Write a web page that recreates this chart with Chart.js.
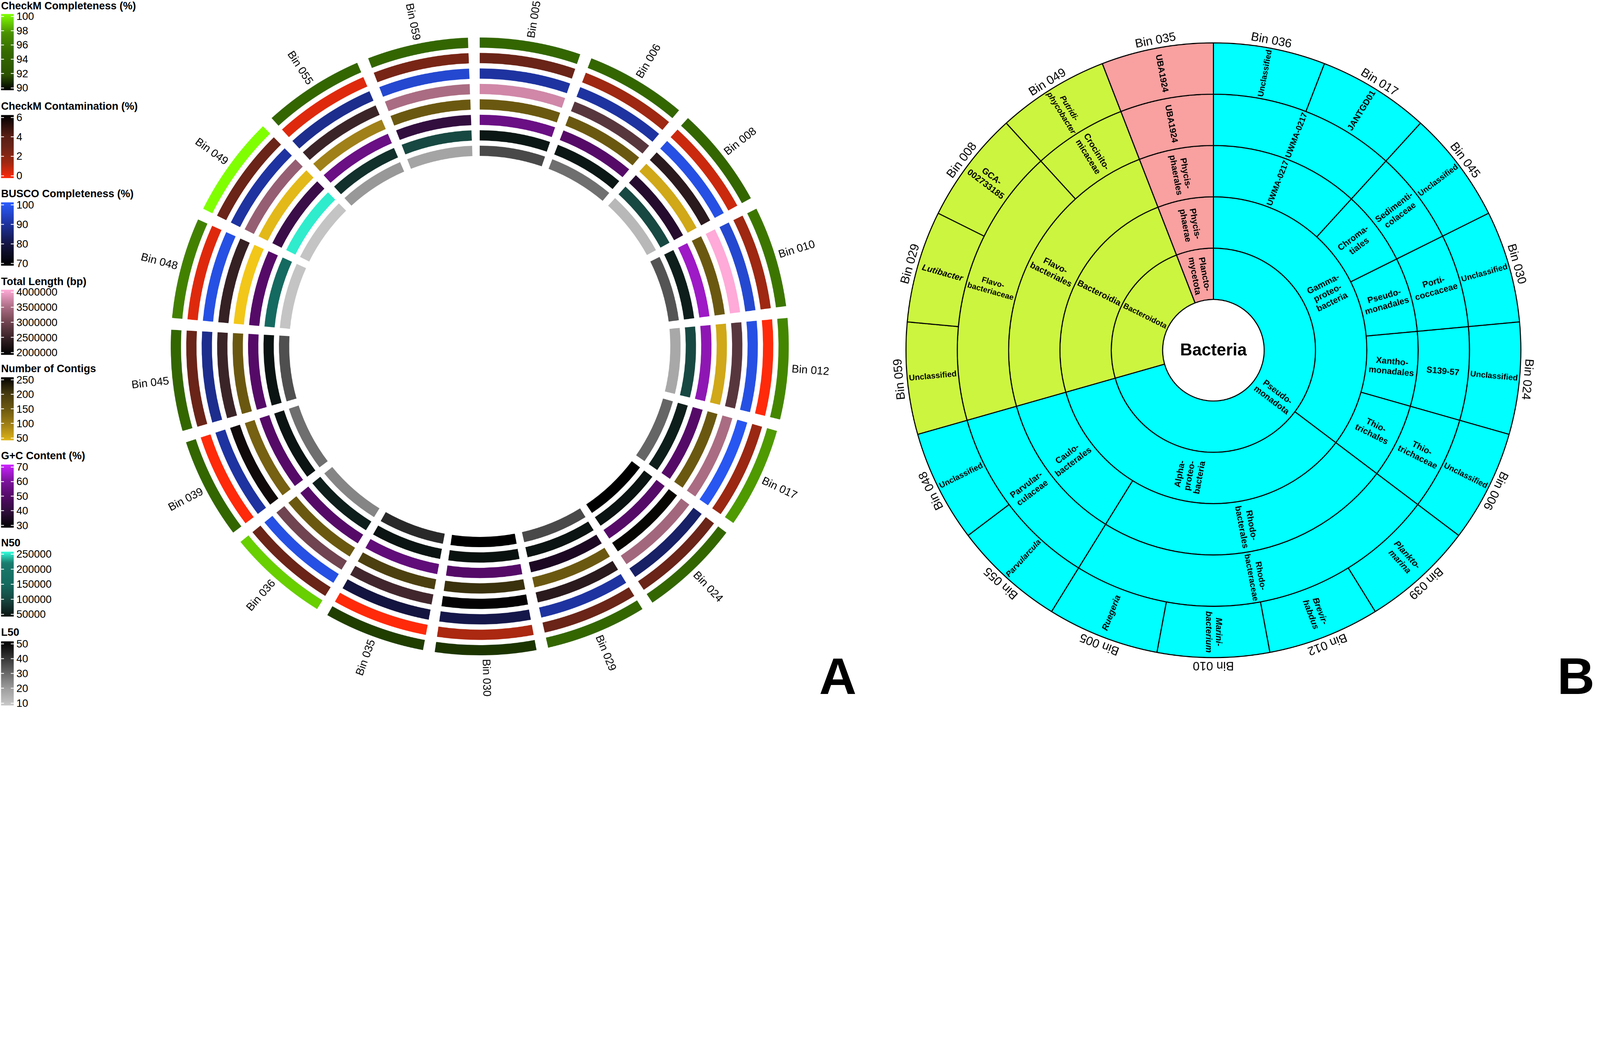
<!DOCTYPE html>
<html>
<head>
<meta charset="utf-8">
<script src="https://cdn.jsdelivr.net/npm/chart.js@4.4.0/dist/chart.umd.min.js"></script>
<style>
  html, body { margin: 0; padding: 0; background: #fff; overflow: hidden; }
  #page { position: relative; width: 6063px; height: 2681px; overflow: hidden; transform-origin: 0 0;
    font-family: 'Liberation Sans', Arial, sans-serif; color: #000; background: #fff; }
  .lg-title { position: absolute; left: 4px; font-weight: bold; font-size: 40px; line-height: 40px; white-space: nowrap; }
  .lg-bar { position: absolute; left: 4px; width: 48px; }
  .lg-tick { position: absolute; height: 3px; width: 11px; background: #fff; }
  .lg-label { position: absolute; left: 62px; font-size: 40px; line-height: 40px; white-space: nowrap; }
  .panel-letter { position: absolute; font-weight: bold; font-size: 196px; line-height: 1; }
  .wrap { position: absolute; top: 0; }
</style>
</head>
<body>
<div id="page">
  <div id="legends"></div>
  <div class="wrap" style="left:418px"><canvas id="chart-a" width="2800" height="2681"></canvas></div>
  <div class="wrap" style="left:3133px"><canvas id="chart-b" width="2930" height="2655"></canvas></div>
  <div class="panel-letter" style="left:3104px;top:2466px">A</div>
  <div class="panel-letter" style="left:5901px;top:2466px">B</div>
</div>
<script>
(function () {
  'use strict';

  // ---- Panel A: MAG quality per bin (clockwise from top) ----
  const binsA = ['Bin 005', 'Bin 006', 'Bin 008', 'Bin 010', 'Bin 012', 'Bin 017', 'Bin 024', 'Bin 029', 'Bin 030',
    'Bin 035', 'Bin 036', 'Bin 039', 'Bin 045', 'Bin 048', 'Bin 049', 'Bin 055', 'Bin 059'];
  const checkmCompleteness = [94.5, 94.5, 94.5, 95.8, 96.8, 97.7, 94.5, 94.5, 91.3, 91.5, 98.9, 94.5, 94.5, 96.5, 100, 94.5, 94.5];
  const checkmContamination = [3.0, 1.5, 0.8, 1.5, 0.0, 1.6, 3.0, 3.0, 1.3, 0.0, 3.0, 0.0, 3.0, 0.5, 3.0, 0.5, 2.6];
  const buscoCompleteness = [90, 90, 97, 95, 97, 98.5, 84, 90, 81, 80, 97, 90, 88, 97, 90, 88, 95];
  const totalLength = [3700000, 2800000, 2400000, 4000000, 2800000, 3450000, 3400000, 2400000, 2050000,
    2600000, 3000000, 2150000, 2550000, 2500000, 3300000, 2550000, 3450000];
  const numContigs = [150, 150, 60, 150, 60, 150, 245, 150, 208, 190, 150, 140, 150, 38, 48, 100, 150];
  const gcContent = [55, 50, 38, 64, 62, 50, 50, 36, 50, 53, 50, 50, 50, 50, 43, 55, 41];
  const n50 = [55000, 55000, 105000, 62000, 105000, 62000, 52000, 52000, 50000, 52000, 62000, 52000, 52000,
    150000, 245000, 80000, 105000];
  const l50 = [36, 29, 14, 34, 18, 31, 50, 36, 50, 42, 25, 29, 35, 11, 11, 21.5, 19];

  // colour scales (value, colour)
  const checkmStops = [[90, '#000000'], [92, '#2b5200'], [95, '#356a00'], [97.5, '#4a9100'], [100, '#80ff00']];
  const contamStops = [[0, '#ff2a0a'], [1.5, '#9e2812'], [3, '#6a2418'], [4, '#581e14'], [6, '#000000']];
  const buscoStops = [[70, '#000000'], [80, '#141440'], [90, '#1e33a0'], [100, '#2a5cff']];
  const lengthStops = [[2000000, '#000000'], [2500000, '#352024'], [3000000, '#704450'], [3500000, '#b07088'], [4000000, '#ffaad8']];
  const contigStops = [[30, '#ffd21a'], [60, '#d0a818'], [100, '#a08018'], [150, '#6b5810'], [200, '#453a10'], [250, '#000000']];
  const gcStops = [[30, '#000000'], [40, '#2e0e3a'], [50, '#550a68'], [60, '#7e14a0'], [70, '#cc22ff']];
  const n50Stops = [[50000, '#0a1210'], [100000, '#17443e'], [150000, '#146a60'], [215000, '#1a7a6c'], [250000, '#33ffdd']];
  const l50Stops = [[10, '#c8c8c8'], [20, '#a0a0a0'], [30, '#6a6a6a'], [40, '#333333'], [50, '#000000']];

  const legendTitles = ['CheckM Completeness (%)', 'CheckM Contamination (%)', 'BUSCO Completeness (%)',
    'Total Length (bp)', 'Number of Contigs', 'G+C Content (%)', 'N50', 'L50'];
  const legendTicks = [
    [100, 98, 96, 94, 92, 90],
    [6, 4, 2, 0],
    [100, 90, 80, 70],
    [4000000, 3500000, 3000000, 2500000, 2000000],
    [250, 200, 150, 100, 50],
    [70, 60, 50, 40, 30],
    [250000, 200000, 150000, 100000, 50000],
    [50, 40, 30, 20, 10],
  ];

  // ---- Panel B: taxonomy per bin (clockwise from top) ----
  const binsB = ['Bin 036', 'Bin 017', 'Bin 045', 'Bin 030', 'Bin 024', 'Bin 006', 'Bin 039', 'Bin 012', 'Bin 010',
    'Bin 005', 'Bin 055', 'Bin 048', 'Bin 059', 'Bin 029', 'Bin 008', 'Bin 049', 'Bin 035'];
  const phylumB = Array(12).fill('Pseudo-\nmonadota').concat(Array(4).fill('Bacteroidota'), ['Plancto-\nmycetota']);
  const classB = Array(6).fill('Gamma-\nproteo-\nbacteria').concat(Array(6).fill('Alpha-\nproteo-\nbacteria'),
    Array(4).fill('Bacteroidia'), ['Phycis-\nphaerae']);
  const orderB = ['UWMA-0217', 'UWMA-0217', 'Chroma-\ntiales', 'Pseudo-\nmonadales', 'Xantho-\nmonadales', 'Thio-\ntrichales',
    'Rhodo-\nbacterales', 'Rhodo-\nbacterales', 'Rhodo-\nbacterales', 'Rhodo-\nbacterales', 'Caulo-\nbacterales', 'Caulo-\nbacterales',
    'Flavo-\nbacteriales', 'Flavo-\nbacteriales', 'Flavo-\nbacteriales', 'Flavo-\nbacteriales', 'Phycis-\nphaerales'];
  const familyB = ['UWMA-0217', 'UWMA-0217', 'Sedimenti-\ncolaceae', 'Porti-\ncoccaceae', 'S139-57', 'Thio-\ntrichaceae',
    'Rhodo-\nbacteraceae', 'Rhodo-\nbacteraceae', 'Rhodo-\nbacteraceae', 'Rhodo-\nbacteraceae', 'Parvular-\nculaceae', 'Parvular-\nculaceae',
    'Flavo-\nbacteriaceae', 'Flavo-\nbacteriaceae', 'Flavo-\nbacteriaceae', 'Crocinito-\nmicaceae', 'UBA1924'];
  const genusB = ['Unclassified', 'JANTGD01', 'Unclassified', 'Unclassified', 'Unclassified', 'Unclassified',
    'Plankto-\nmarina', 'Brevir-\nhabdus', 'Marini-\nbacterium', 'Ruegeria', 'Parvularcula', 'Unclassified',
    'Unclassified', 'Lutibacter', 'GCA-\n002733185', 'Putridi-\nphycobacter', 'UBA1924'];
  const italicNames = ['Plankto-\nmarina', 'Brevir-\nhabdus', 'Marini-\nbacterium', 'Ruegeria', 'Parvularcula',
    'Lutibacter', 'Putridi-\nphycobacter'];
  const phylumColors = { 'Pseudo-\nmonadota': '#00ffff', 'Bacteroidota': '#ccf53f', 'Plancto-\nmycetota': '#f9a0a0' };

  const FONT = "'Liberation Sans', Arial, sans-serif";

  // fit the 6063 x 2681 layout into whatever the viewport is
  const page = document.getElementById('page');
  const fit = Math.min(window.innerWidth / 6063, window.innerHeight / 2681) || 1;
  page.style.transform = 'scale(' + fit + ')';

  function hexToRgb(h) {
    return [parseInt(h.slice(1, 3), 16), parseInt(h.slice(3, 5), 16), parseInt(h.slice(5, 7), 16)];
  }

  function colorScale(stops) {
    return function (v) {
      if (v <= stops[0][0]) return stops[0][1];
      for (let i = 1; i < stops.length; i++) {
        if (v <= stops[i][0]) {
          const t = (v - stops[i - 1][0]) / (stops[i][0] - stops[i - 1][0]);
          const a = hexToRgb(stops[i - 1][1]);
          const b = hexToRgb(stops[i][1]);
          const c = a.map((x, k) => Math.round(x + (b[k] - x) * t));
          return 'rgb(' + c.join(',') + ')';
        }
      }
      return stops[stops.length - 1][1];
    };
  }

  const tracks = [
    { values: checkmCompleteness, scale: colorScale(checkmStops) },
    { values: checkmContamination, scale: colorScale(contamStops) },
    { values: buscoCompleteness, scale: colorScale(buscoStops) },
    { values: totalLength, scale: colorScale(lengthStops) },
    { values: numContigs, scale: colorScale(contigStops) },
    { values: gcContent, scale: colorScale(gcStops) },
    { values: n50, scale: colorScale(n50Stops) },
    { values: l50, scale: colorScale(l50Stops) },
  ];

  // ---- legends (HTML) ----
  const legendBox = [[21, 53, 342], [402, 436, 675], [734, 767, 1007], [1066, 1098, 1345],
    [1397, 1430, 1669], [1727, 1761, 2000], [2057, 2091, 2337], [2396, 2431, 2674]];
  const legendsEl = document.getElementById('legends');
  legendTitles.forEach((title, i) => {
    const [cy, top, bottom] = legendBox[i];
    const ticks = legendTicks[i];
    const max = ticks[0];
    const min = ticks[ticks.length - 1];
    const scale = tracks[i].scale;

    const t = document.createElement('div');
    t.className = 'lg-title';
    t.style.top = (cy - 20) + 'px';
    t.textContent = title;
    legendsEl.appendChild(t);

    const stops = [];
    for (let k = 0; k <= 30; k++) {
      stops.push(scale(max - (max - min) * k / 30) + ' ' + (k / 30 * 100).toFixed(1) + '%');
    }
    const bar = document.createElement('div');
    bar.className = 'lg-bar';
    bar.style.top = top + 'px';
    bar.style.height = (bottom - top) + 'px';
    bar.style.background = 'linear-gradient(to bottom, ' + stops.join(', ') + ')';
    legendsEl.appendChild(bar);

    const inset = 9;
    ticks.forEach((v) => {
      const y = top + inset + (max - v) / (max - min) * (bottom - top - 2 * inset);
      [4, 41].forEach((x) => {
        const m = document.createElement('div');
        m.className = 'lg-tick';
        m.style.left = x + 'px';
        m.style.top = (y - 1.5) + 'px';
        legendsEl.appendChild(m);
      });
      const lab = document.createElement('div');
      lab.className = 'lg-label';
      lab.style.top = (y - 20) + 'px';
      lab.textContent = String(v);
      legendsEl.appendChild(lab);
    });
  });

  // ---- Panel A chart ----
  const gapDeg = 2.2;
  const cellDeg = 360 / binsA.length - gapDeg;
  const gapRatio = gapDeg / cellDeg;
  const transparent = 'rgba(0,0,0,0)';

  const datasetsA = [];
  tracks.forEach((track, i) => {
    datasetsA.push({
      data: track.values.flatMap(() => [1, gapRatio]),
      backgroundColor: track.values.flatMap((v) => [track.scale(v), transparent]),
      borderWidth: 0,
      weight: 39,
    });
    if (i < tracks.length - 1) {
      datasetsA.push({ data: [1], backgroundColor: [transparent], borderWidth: 0, weight: 19.6 });
    }
  });

  const binLabelsA = {
    id: 'binLabelsA',
    afterDatasetsDraw(chart) {
      const ctx = chart.ctx;
      const arcs = chart.getDatasetMeta(0).data;
      ctx.save();
      ctx.font = '42px ' + FONT;
      ctx.fillStyle = '#000';
      ctx.textBaseline = 'middle';
      binsA.forEach((name, i) => {
        const a = arcs[i * 2].getProps(['x', 'y', 'startAngle', 'endAngle', 'outerRadius'], true);
        const mid = (a.startAngle + a.endAngle) / 2;
        const fromTop = mid + Math.PI / 2;
        ctx.save();
        ctx.translate(a.x, a.y);
        if (fromTop <= Math.PI + 1e-6) {
          ctx.rotate(mid);
          ctx.textAlign = 'left';
          ctx.fillText(name, a.outerRadius + 14, 0);
        } else {
          ctx.rotate(mid + Math.PI);
          ctx.textAlign = 'right';
          ctx.fillText(name, -(a.outerRadius + 14), 0);
        }
        ctx.restore();
      });
      ctx.restore();
    },
  };

  new Chart(document.getElementById('chart-a'), {
    type: 'doughnut',
    data: { labels: binsA.flatMap((b) => [b, '']), datasets: datasetsA },
    options: {
      responsive: false,
      devicePixelRatio: 1,
      animation: false,
      events: [],
      radius: 1171,
      cutout: (722 / 1171 * 100) + '%',
      rotation: 0,
      layout: { padding: { bottom: 55 } },
      plugins: { legend: { display: false }, tooltip: { enabled: false } },
    },
    plugins: [binLabelsA],
  });

  // ---- Panel B chart ----
  function runs(arr, perLeaf) {
    const out = [];
    arr.forEach((name, i) => {
      const last = out[out.length - 1];
      if (!perLeaf && last && last.name === name) last.count += 1;
      else out.push({ name, count: 1, first: i });
    });
    return out;
  }

  const ringsB = [
    runs(genusB, true),
    runs(familyB, false),
    runs(orderB, false),
    runs(classB, false),
    runs(phylumB, false),
  ];

  const datasetsB = ringsB.map((segs) => ({
    data: segs.map((s) => s.count),
    backgroundColor: segs.map((s) => phylumColors[phylumB[s.first]]),
    borderColor: '#000',
    borderWidth: 4,
    weight: 1,
  }));

  const labelsB = {
    id: 'labelsB',
    afterDatasetsDraw(chart) {
      const ctx = chart.ctx;
      ctx.save();
      ctx.fillStyle = '#000';
      ctx.textAlign = 'center';
      ctx.textBaseline = 'middle';

      ringsB.forEach((segs, d) => {
        const arcs = chart.getDatasetMeta(d).data;
        segs.forEach((seg, k) => {
          const a = arcs[k].getProps(['x', 'y', 'startAngle', 'endAngle', 'innerRadius', 'outerRadius'], true);
          const mid = (a.startAngle + a.endAngle) / 2;
          const rMid = (a.innerRadius + a.outerRadius) / 2;
          const lines = seg.name.split('\n');
          const style = italicNames.includes(seg.name) ? 'italic bold ' : 'bold ';
          ctx.font = style + '100px ' + FONT;
          const widest = Math.max(...lines.map((l) => ctx.measureText(l).width)) / 100;
          const size = Math.min(33, (a.outerRadius - a.innerRadius) * 0.93 / widest);
          ctx.font = style + size.toFixed(1) + 'px ' + FONT;
          const lh = size * 1.15;
          ctx.save();
          ctx.translate(a.x + Math.cos(mid) * rMid, a.y + Math.sin(mid) * rMid);
          const fromTop = mid + Math.PI / 2;
          ctx.rotate(fromTop <= Math.PI + 1e-6 ? mid : mid + Math.PI);
          lines.forEach((ln, j) => ctx.fillText(ln, 0, (j - (lines.length - 1) / 2) * lh));
          ctx.restore();
        });
      });

      // bin names around the outside
      const outer = chart.getDatasetMeta(0).data;
      ctx.font = '46px ' + FONT;
      ctx.textBaseline = 'alphabetic';
      binsB.forEach((name, i) => {
        const a = outer[i].getProps(['x', 'y', 'startAngle', 'endAngle', 'outerRadius'], true);
        const mid = (a.startAngle + a.endAngle) / 2;
        ctx.save();
        ctx.translate(a.x, a.y);
        ctx.rotate(mid + Math.PI / 2);
        ctx.fillText(name, 0, -(a.outerRadius + 16));
        ctx.restore();
      });

      // centre
      const c = outer[0].getProps(['x', 'y'], true);
      ctx.font = 'bold 64px ' + FONT;
      ctx.textBaseline = 'middle';
      ctx.fillText('Bacteria', c.x, c.y + 2);
      ctx.restore();
    },
  };

  new Chart(document.getElementById('chart-b'), {
    type: 'doughnut',
    data: { labels: binsB, datasets: datasetsB },
    options: {
      responsive: false,
      devicePixelRatio: 1,
      animation: false,
      events: [],
      radius: 1165,
      cutout: (192.5 / 1165.5 * 100) + '%',
      rotation: 0,
      plugins: { legend: { display: false }, tooltip: { enabled: false } },
    },
    plugins: [labelsB],
  });
})();
</script>
</body>
</html>
